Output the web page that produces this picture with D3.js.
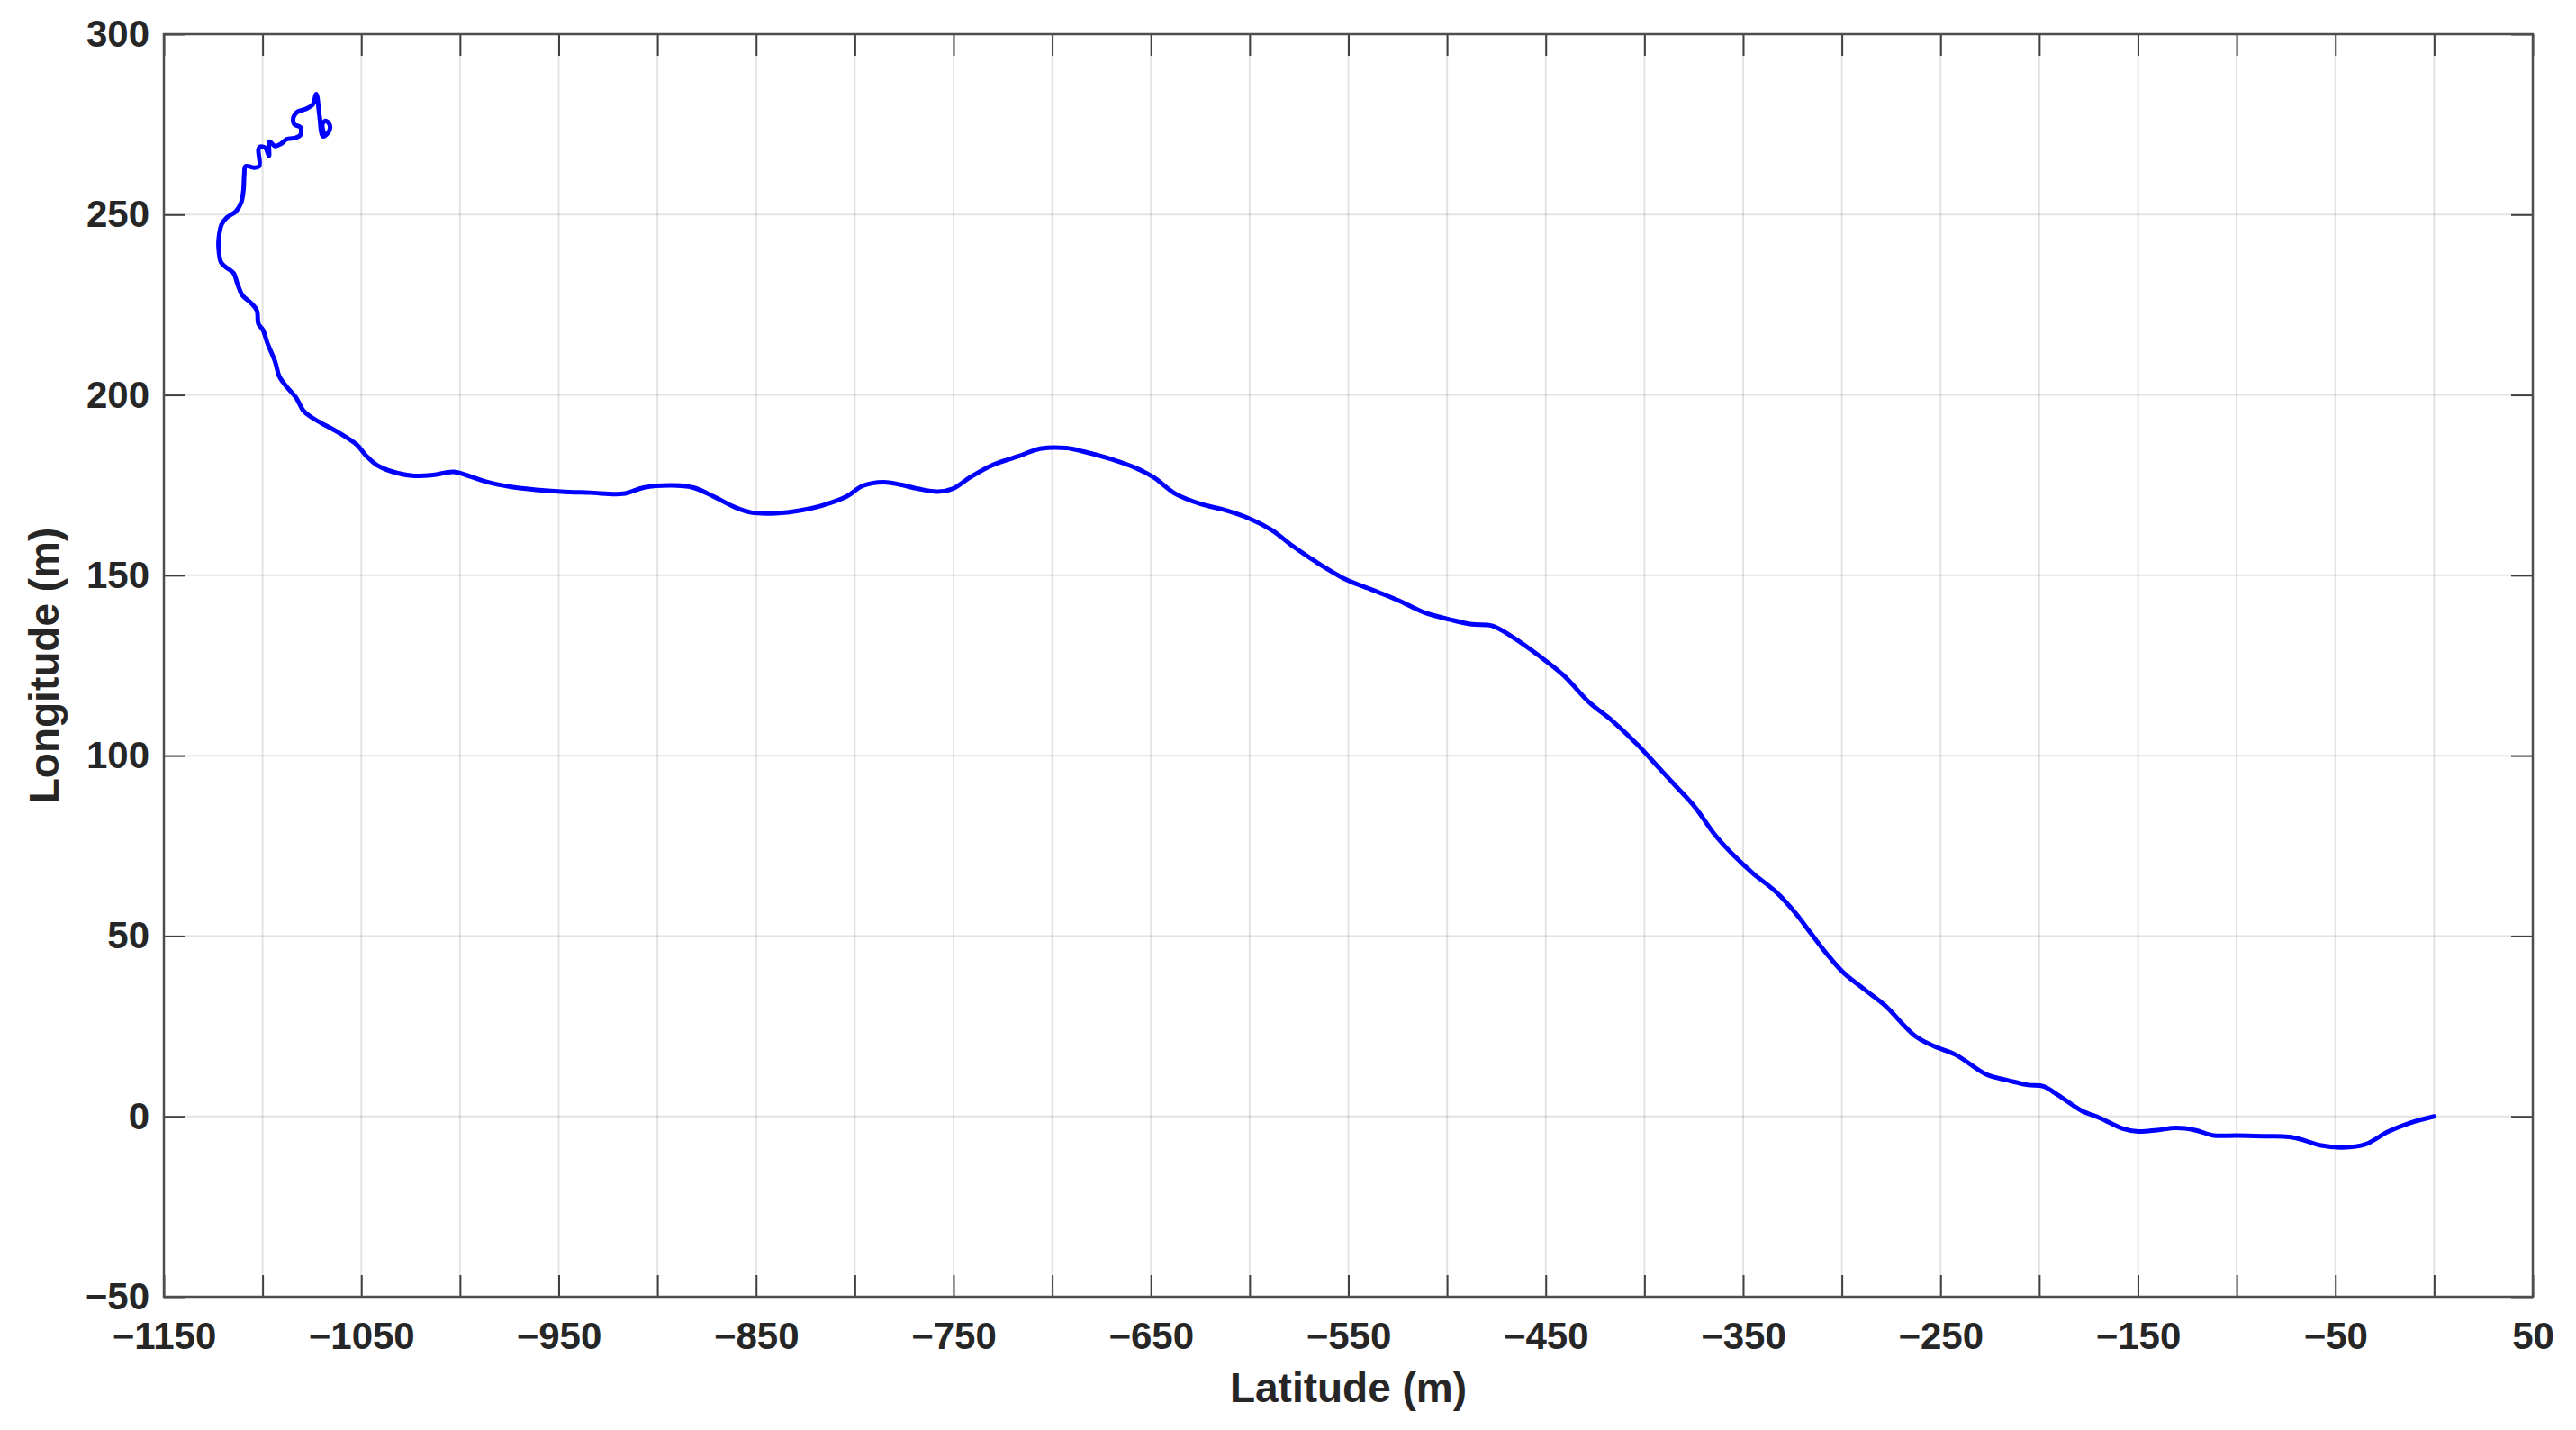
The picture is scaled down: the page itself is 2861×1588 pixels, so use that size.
<!DOCTYPE html>
<html>
<head>
<meta charset="utf-8">
<script src="https://cdn.jsdelivr.net/npm/d3@7"></script>
<style>
  html, body { margin: 0; padding: 0; background: #ffffff; }
  svg { display: block; }
  text { font-family: "Liberation Sans", Arial, Helvetica, sans-serif; font-weight: bold; fill: #262626; }
</style>
</head>
<body>
<svg id="chart" width="2861" height="1588"></svg>
<script>
// ---- data (from track end back to origin) ----
const latitude = [
  -1068.7, -1069.7, -1068.2, -1066.1, -1066.4, -1069.4, -1071.2, -1072.8, -1074.7, -1078.5,
  -1082.3, -1084.3, -1083.9, -1080.8, -1080.8, -1083.1, -1087.7, -1090.7, -1093.7, -1096.5,
  -1096.8, -1098.6, -1101.3, -1102.1, -1101.7, -1104.4, -1108.6, -1109.3, -1109.7, -1110.8,
  -1113.5, -1118.1, -1120.8, -1122.2, -1122.3, -1121.1, -1118.8, -1114.7, -1112.8, -1110.2,
  -1105.9, -1102.9, -1102.1, -1099.8, -1097.5, -1093.7, -1091.5, -1087.7, -1083.1, -1079.3,
  -1075.5,
  -1070.3, -1061.9, -1052.5, -1047.3, -1042.0, -1034.7, -1024.2, -1013.8, -1003.3, -997.0,
  -986.5, -974.0, -961.4, -948.8, -934.2, -917.4, -907.0, -892.3, -881.8, -871.4,
  -860.9, -852.5, -839.9, -827.4, -816.9, -804.3, -796.0, -785.5,
  -776.9, -768.1, -758.1, -750.4, -741.5, -730.5, -717.2, -706.1, -692.9, -684.0,
  -670.8, -657.5, -648.7, -637.6, -624.4, -613.3, -600.0, -589.0, -577.9, -566.9,
  -551.4, -538.1, -524.9, -511.6, -498.3, -487.3, -477.3, -467.4,
  -452.4, -441.0, -428.0, -416.6, -403.6, -393.8, -384.0, -374.2, -364.5, -354.7,
  -344.9, -333.5, -323.7, -315.6, -307.4, -299.3, -287.9, -278.1,
  -263.2, -253.6, -242.1, -226.7, -215.2, -205.6, -197.9, -190.2, -178.7, -169.1,
  -157.6, -149.9, -140.3, -130.7, -121.1, -111.5, -100.0, -84.6, -73.1, -65.4,
  -57.8, -46.2, -34.7, -23.2, -11.7, 0.0
];
const longitude = [
  272.1, 275.0, 276.0, 275.0, 273.0, 271.7, 277.5, 283.4, 280.4, 279.2,
  278.5, 277.1, 275.0, 274.2, 272.1, 271.3, 270.9, 269.6, 269.0, 270.2,
  266.3, 268.5, 268.8, 268.0, 263.4, 263.0, 263.4, 260.9, 256.7, 253.4,
  250.9, 249.2, 247.2, 243.4, 240.9, 236.8, 235.5, 233.8, 230.9, 227.6,
  225.5, 223.4, 219.7, 218.0, 214.3, 209.3, 205.1, 202.2, 199.3, 195.6,
  193.9,
  192.2, 189.7, 186.3, 183.0, 180.5, 178.8, 177.6, 177.8, 178.7, 177.8,
  175.9, 174.5, 173.7, 173.2, 172.9, 172.6, 174.3, 174.9, 174.3, 171.8,
  168.9, 167.4, 167.2, 168.0, 169.3, 171.8, 174.8, 175.8,
  175.1, 174.0, 173.2, 174.0, 177.2, 180.5, 183.0, 185.1, 185.3, 184.3,
  182.3, 179.7, 177.2, 172.6, 169.7, 168.2, 165.7, 162.6, 158.0, 153.9,
  148.9, 146.0, 143.1, 139.7, 137.7, 136.4, 136.0, 133.1,
  127.3, 122.3, 114.8, 109.8, 103.1, 97.3, 91.5, 85.6, 78.2, 72.3,
  67.3, 62.3, 56.5, 50.7, 44.9, 39.9, 34.9, 30.7,
  22.4, 19.5, 17.0, 11.6, 9.9, 8.7, 8.3, 5.8, 1.6, -0.5,
  -3.4, -4.2, -3.8, -3.2, -3.8, -5.3, -5.3, -5.5, -5.7, -6.7,
  -8.0, -8.6, -7.7, -4.2, -1.7, 0.0
];
const xTicks = [-1150, -1100, -1050, -1000, -950, -900, -850, -800, -750, -700, -650, -600,
                -550, -500, -450, -400, -350, -300, -250, -200, -150, -100, -50, 0, 50];
const xTickLabels = [-1150, -1050, -950, -850, -750, -650, -550, -450, -350, -250, -150, -50, 50];
const yTicks = [-50, 0, 50, 100, 150, 200, 250, 300];
const xDomain = [-1150, 50];
const yDomain = [-50, 300];
const xTitle = "Latitude (m)";
const yTitle = "Longitude (m)";

// ---- layout ----
const L = 182, R = 2813, T = 38, B = 1440;
const svg = d3.select("#chart");
const x = d3.scaleLinear().domain(xDomain).range([L, R]);
const y = d3.scaleLinear().domain(yDomain).range([B, T]);
const fmt = d3.format("d");
const tickLen = 24;

// grid
const grid = svg.append("g").attr("class", "grid");
grid.selectAll("line.gx").data(xTicks).join("line")
  .attr("x1", d => x(d)).attr("x2", d => x(d)).attr("y1", T).attr("y2", B)
  .attr("stroke", "#262626").attr("stroke-opacity", 0.13).attr("stroke-width", 2);
grid.selectAll("line.gy").data(yTicks).join("line")
  .attr("y1", d => y(d)).attr("y2", d => y(d)).attr("x1", L).attr("x2", R)
  .attr("stroke", "#262626").attr("stroke-opacity", 0.13).attr("stroke-width", 2);

// data line
const pts = latitude.map((v, i) => [v, longitude[i]]);
svg.append("path")
  .datum(pts)
  .attr("fill", "none")
  .attr("stroke", "#0000ff")
  .attr("stroke-width", 5)
  .attr("stroke-linejoin", "round")
  .attr("stroke-linecap", "round")
  .attr("d", d3.line().x(d => x(d[0])).y(d => y(d[1])).curve(d3.curveCatmullRom.alpha(0.5)));

// axes
const labelSet = new Set(xTickLabels);
function styleAxis(g) {
  g.select(".domain").remove();
  g.selectAll(".tick line").attr("stroke", "#404040").attr("stroke-width", 2);
  g.selectAll(".tick text").attr("font-size", 42).attr("font-weight", "bold")
    .attr("fill", "#262626").style("font-family", '"Liberation Sans", Arial, sans-serif');
}
svg.append("g").attr("transform", `translate(0,${B})`)
  .call(d3.axisBottom(x).tickValues(xTicks).tickSize(-tickLen).tickPadding(28)
        .tickFormat(d => labelSet.has(d) ? fmt(d) : ""))
  .call(styleAxis);
svg.append("g").attr("transform", `translate(0,${T})`)
  .call(d3.axisTop(x).tickValues(xTicks).tickSize(-tickLen).tickFormat(""))
  .call(styleAxis);
svg.append("g").attr("transform", `translate(${L},0)`)
  .call(d3.axisLeft(y).tickValues(yTicks).tickSize(-tickLen).tickPadding(16).tickFormat(fmt))
  .call(styleAxis);
svg.append("g").attr("transform", `translate(${R},0)`)
  .call(d3.axisRight(y).tickValues(yTicks).tickSize(-tickLen).tickFormat(""))
  .call(styleAxis);

// box
svg.append("rect")
  .attr("x", L).attr("y", T).attr("width", R - L).attr("height", B - T)
  .attr("fill", "none").attr("stroke", "#4d4d4d").attr("stroke-width", 2.5);

// titles
svg.append("text")
  .attr("x", (L + R) / 2).attr("y", 1557)
  .attr("text-anchor", "middle").attr("font-size", 46)
  .text(xTitle);
svg.append("text")
  .attr("transform", `translate(65,${(T + B) / 2}) rotate(-90)`)
  .attr("text-anchor", "middle").attr("font-size", 46)
  .text(yTitle);
</script>
</body>
</html>
